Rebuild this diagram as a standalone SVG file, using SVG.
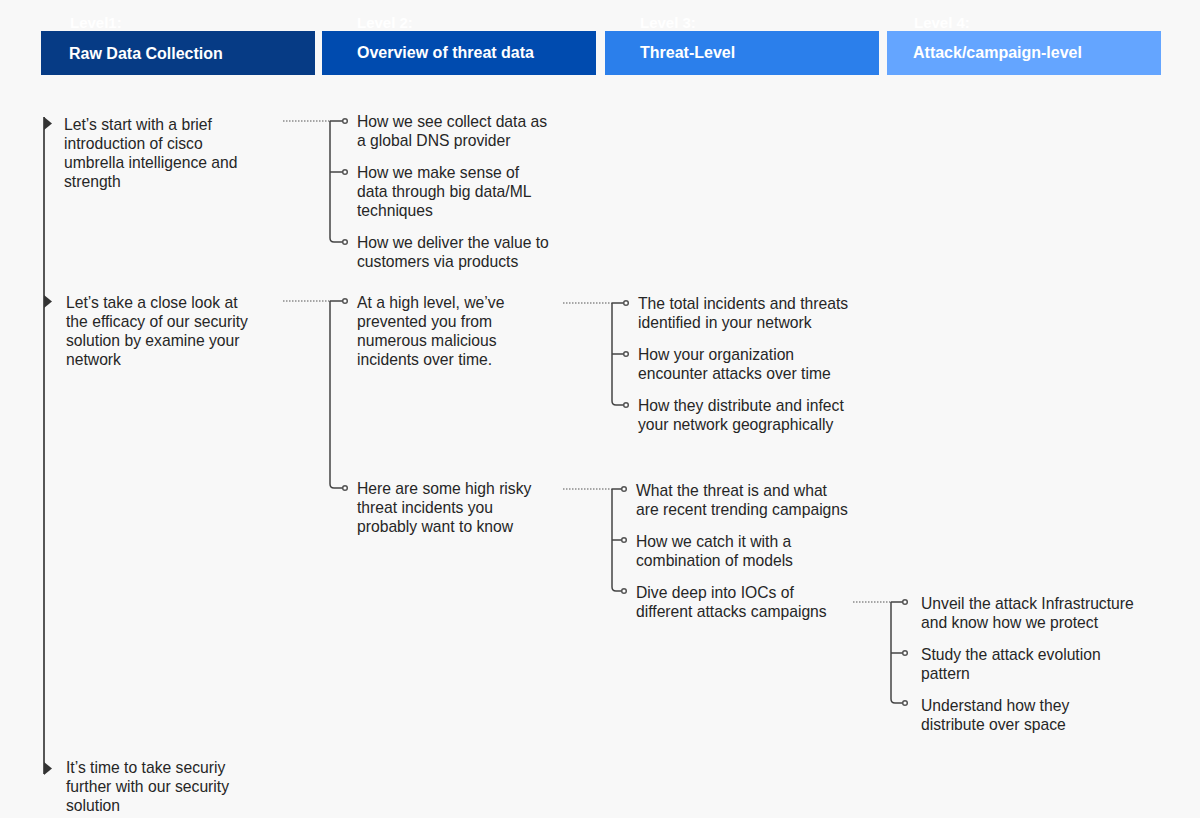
<svg xmlns="http://www.w3.org/2000/svg" width="1200" height="818" viewBox="0 0 1200 818">
<defs>
<style>
.lvl{font-family:"Liberation Sans",Arial,sans-serif;font-size:15px;font-weight:bold;fill:#ffffff}
.hd{font-family:"Liberation Sans",Arial,sans-serif;font-size:16px;font-weight:bold;fill:#ffffff}
.t{font-family:"Liberation Sans",Arial,sans-serif;font-size:15.7px;fill:#262626}
.dot{stroke:#555;stroke-width:1;stroke-dasharray:1.5 1.5;fill:none}
.br{stroke:#444;stroke-width:1.5;fill:none}
.ring{stroke:#555;stroke-width:1.5;fill:#fff}
.tri{fill:#333}
</style>
</defs>
<rect width="1200" height="818" fill="#f8f8f8"/>
<g id="headers">
<g id="h1"><text class="lvl" x="70" y="28">Level1:</text><rect x="41" y="31" width="274" height="44" fill="#063b85"/><text class="hd" x="69" y="59">Raw Data Collection</text></g>
<g id="h2"><text class="lvl" x="357" y="28">Level 2:</text><rect x="322" y="31" width="274" height="44" fill="#004baf"/><text class="hd" x="357" y="58">Overview of threat data</text></g>
<g id="h3"><text class="lvl" x="640" y="28">Level 3:</text><rect x="605" y="31" width="274" height="44" fill="#2b7feb"/><text class="hd" x="640" y="58">Threat-Level</text></g>
<g id="h4"><text class="lvl" x="914" y="28">Level 4:</text><rect x="887" y="31" width="274" height="44" fill="#64a5ff"/><text class="hd" x="913" y="58">Attack/campaign-level</text></g>
</g>
<g id="connectors">
<line x1="44" y1="117" x2="44" y2="774" stroke="#222" stroke-width="1.5"/>
<polygon class="tri" points="44,117 52,123.5 44,130"/>
<polygon class="tri" points="44,295 52,301.5 44,308"/>
<polygon class="tri" points="44,762 52,768.5 44,775"/>
<line class="dot" x1="283" y1="121" x2="330" y2="121"/>
<path class="br" d="M330,121 H343 M330,121 V238 Q330,242 334,242 H343 M330,172 H343"/>
<circle class="ring" cx="345" cy="121" r="2.3"/><circle class="ring" cx="345" cy="172" r="2.3"/><circle class="ring" cx="345" cy="242" r="2.3"/>
<line class="dot" x1="283" y1="301" x2="330" y2="301"/>
<path class="br" d="M330,301 H343 M330,301 V484 Q330,488 334,488 H343"/>
<circle class="ring" cx="345" cy="301" r="2.3"/><circle class="ring" cx="345" cy="488" r="2.3"/>
<line class="dot" x1="563" y1="303" x2="612" y2="303"/>
<path class="br" d="M612,303 H624 M612,303 V401 Q612,405 616,405 H624 M612,354 H624"/>
<circle class="ring" cx="626" cy="303" r="2.3"/><circle class="ring" cx="626" cy="354" r="2.3"/><circle class="ring" cx="626" cy="405" r="2.3"/>
<line class="dot" x1="563" y1="489" x2="612" y2="489"/>
<path class="br" d="M612,489 H622 M612,489 V587 Q612,591 616,591 H622 M612,540 H622"/>
<circle class="ring" cx="624" cy="489" r="2.3"/><circle class="ring" cx="624" cy="540" r="2.3"/><circle class="ring" cx="624" cy="591" r="2.3"/>
<line class="dot" x1="853" y1="602" x2="891" y2="602"/>
<path class="br" d="M891,602 H903 M891,602 V699 Q891,703 895,703 H903 M891,653 H903"/>
<circle class="ring" cx="905" cy="602" r="2.3"/><circle class="ring" cx="905" cy="653" r="2.3"/><circle class="ring" cx="905" cy="703" r="2.3"/>
</g>
<g id="l1a"><text class="t" x="64" y="130">Let’s start with a brief</text><text class="t" x="64" y="149">introduction of cisco</text><text class="t" x="64" y="168">umbrella intelligence and</text><text class="t" x="64" y="187">strength</text></g>
<g id="l1b"><text class="t" x="66" y="308">Let’s take a close look at</text><text class="t" x="66" y="327">the efficacy of our security</text><text class="t" x="66" y="346">solution by examine your</text><text class="t" x="66" y="365">network</text></g>
<g id="l1c"><text class="t" x="66" y="773">It’s time to take securiy</text><text class="t" x="66" y="792">further with our security</text><text class="t" x="66" y="811">solution</text></g>
<g id="l2a"><text class="t" x="357" y="127">How we see collect data as</text><text class="t" x="357" y="146">a global DNS provider</text></g>
<g id="l2b"><text class="t" x="357" y="178">How we make sense of</text><text class="t" x="357" y="197">data through big data/ML</text><text class="t" x="357" y="216">techniques</text></g>
<g id="l2c"><text class="t" x="357" y="248">How we deliver the value to</text><text class="t" x="357" y="267">customers via products</text></g>
<g id="l2d"><text class="t" x="357" y="308">At a high level, we’ve</text><text class="t" x="357" y="327">prevented you from</text><text class="t" x="357" y="346">numerous malicious</text><text class="t" x="357" y="365">incidents over time.</text></g>
<g id="l2e"><text class="t" x="357" y="494">Here are some high risky</text><text class="t" x="357" y="513">threat incidents you</text><text class="t" x="357" y="532">probably want to know</text></g>
<g id="l3a"><text class="t" x="638" y="309">The total incidents and threats</text><text class="t" x="638" y="328">identified in your network</text></g>
<g id="l3b"><text class="t" x="638" y="360">How your organization</text><text class="t" x="638" y="379">encounter attacks over time</text></g>
<g id="l3c"><text class="t" x="638" y="411">How they distribute and infect</text><text class="t" x="638" y="430">your network geographically</text></g>
<g id="l3d"><text class="t" x="636" y="496">What the threat is and what</text><text class="t" x="636" y="515">are recent trending campaigns</text></g>
<g id="l3e"><text class="t" x="636" y="547">How we catch it with a</text><text class="t" x="636" y="566">combination of models</text></g>
<g id="l3f"><text class="t" x="636" y="598">Dive deep into IOCs of</text><text class="t" x="636" y="617">different attacks campaigns</text></g>
<g id="l4a"><text class="t" x="921" y="609">Unveil the attack Infrastructure</text><text class="t" x="921" y="628">and know how we protect</text></g>
<g id="l4b"><text class="t" x="921" y="660">Study the attack evolution</text><text class="t" x="921" y="679">pattern</text></g>
<g id="l4c"><text class="t" x="921" y="711">Understand how they</text><text class="t" x="921" y="730">distribute over space</text></g>
</svg>
